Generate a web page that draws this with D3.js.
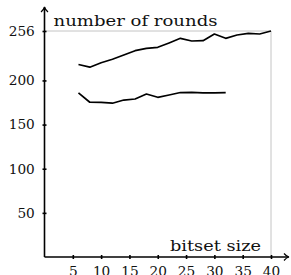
<!DOCTYPE html>
<html>
<head>
<meta charset="utf-8">
<script src="https://cdn.jsdelivr.net/npm/d3@7"></script>
<style>
  body { margin: 0; background: #fff; }
</style>
</head>
<body>
<svg id="chart" width="291" height="275"></svg>
<script>
// bitset size vs number of rounds
const upperX = [6, 8, 10, 12, 14, 16, 18, 20, 22, 24, 26, 28, 30, 32, 34, 36, 38, 40];
const upperY = [218, 215, 220, 224, 228.8, 233.7, 236.4, 237.5, 242.5, 247.7, 244.7, 245, 252.6, 247.7, 251.5, 253.4, 252.6, 256];
const lowerX = [6, 8, 10, 12, 14, 16, 18, 20, 22, 24, 26, 28, 30, 32];
const lowerY = [186, 175.3, 175.2, 174.2, 177.8, 179, 184.6, 180.9, 183.5, 186.3, 186.5, 185.8, 185.8, 186.3];
const xTicks = [5, 10, 15, 20, 25, 30, 35, 40];
const yTicks = [50, 100, 150, 200, 256];

const stretch = 1.14; // reference digits are a bit wider than DejaVu Serif
const serif = "'DejaVu Serif', serif";

const svg = d3.select("#chart");
const x = d3.scaleLinear().domain([0, 40]).range([44.5, 271]);
const y = d3.scaleLinear().domain([0, 256]).range([257, 31]);

// light grey frame at the top and right
svg.append("line")
    .attr("x1", x(0)).attr("x2", x(40))
    .attr("y1", y(256)).attr("y2", y(256))
    .attr("stroke", "#c4c4c4").attr("stroke-width", 1);
svg.append("line")
    .attr("x1", x(40)).attr("x2", x(40))
    .attr("y1", y(256)).attr("y2", y(0))
    .attr("stroke", "#c4c4c4").attr("stroke-width", 1);

// axes
const xAxis = svg.append("g")
    .attr("transform", "translate(0," + y(0) + ")")
    .call(d3.axisBottom(x).tickValues(xTicks).tickSize(0));
const yAxis = svg.append("g")
    .attr("transform", "translate(" + x(0) + ",0)")
    .call(d3.axisLeft(y).tickValues(yTicks).tickSize(0));

[xAxis, yAxis].forEach(g => {
    g.select(".domain").remove();
    g.attr("font-family", null).attr("font-size", null);
});

xAxis.selectAll(".tick line")
    .attr("y1", -2).attr("y2", 2)
    .attr("stroke", "#000").attr("stroke-width", 1.6);
xAxis.selectAll(".tick text")
    .attr("y", 19).attr("dy", 0)
    .style("font-family", serif)
    .style("font-size", "12px")
    .attr("fill", "#111")
    .attr("transform", "scale(" + stretch + ",1)");

yAxis.selectAll(".tick line")
    .attr("x1", -2).attr("x2", 2)
    .attr("stroke", "#000").attr("stroke-width", 1.6);
yAxis.selectAll(".tick text")
    .attr("x", -9.7 / stretch).attr("dy", "0.36em")
    .style("font-family", serif)
    .style("font-size", "12px")
    .attr("fill", "#111")
    .attr("transform", "scale(" + stretch + ",1)");

// axis lines with arrow heads
const x0 = x(0), y0 = y(0), yTop = 7, xEnd = 289;
svg.append("path")
    .attr("d", "M" + x0 + "," + y0 + "V" + (yTop + 0.5))
    .attr("stroke", "#000").attr("stroke-width", 1.6).attr("fill", "none");
svg.append("path")
    .attr("d", "M" + (x0 - 3.5) + "," + (yTop + 5) + "Q" + (x0 - 0.6) + "," + (yTop + 2.5) + " " + x0 + "," + yTop +
               "Q" + (x0 + 0.6) + "," + (yTop + 2.5) + " " + (x0 + 3.5) + "," + (yTop + 5))
    .attr("stroke", "#000").attr("stroke-width", 1.2).attr("fill", "none");
svg.append("path")
    .attr("d", "M" + x0 + "," + y0 + "H" + (xEnd - 0.5))
    .attr("stroke", "#000").attr("stroke-width", 1.6).attr("fill", "none");
svg.append("path")
    .attr("d", "M" + (xEnd - 5) + "," + (y0 - 3.5) + "Q" + (xEnd - 2.5) + "," + (y0 - 0.6) + " " + xEnd + "," + y0 +
               "Q" + (xEnd - 2.5) + "," + (y0 + 0.6) + " " + (xEnd - 5) + "," + (y0 + 3.5))
    .attr("stroke", "#000").attr("stroke-width", 1.2).attr("fill", "none");

// axis titles, fitted to the reference width
svg.append("text")
    .attr("x", 53.5).attr("y", 25.5)
    .attr("textLength", 164).attr("lengthAdjust", "spacingAndGlyphs")
    .style("font-family", serif)
    .style("font-size", "15.5px")
    .attr("fill", "#111")
    .text("number of rounds");
svg.append("text")
    .attr("x", 170).attr("y", 251)
    .attr("textLength", 91).attr("lengthAdjust", "spacingAndGlyphs")
    .style("font-family", serif)
    .style("font-size", "15.5px")
    .attr("fill", "#111")
    .text("bitset size");

// series
const line = d3.line().x(d => x(d[0])).y(d => y(d[1]));
const series = [d3.zip(upperX, upperY), d3.zip(lowerX, lowerY)];
svg.selectAll(".series")
    .data(series)
    .join("path")
    .attr("class", "series")
    .attr("d", line)
    .attr("fill", "none")
    .attr("stroke", "#000")
    .attr("stroke-width", 1.7)
    .attr("stroke-linejoin", "round");
</script>
</body>
</html>
